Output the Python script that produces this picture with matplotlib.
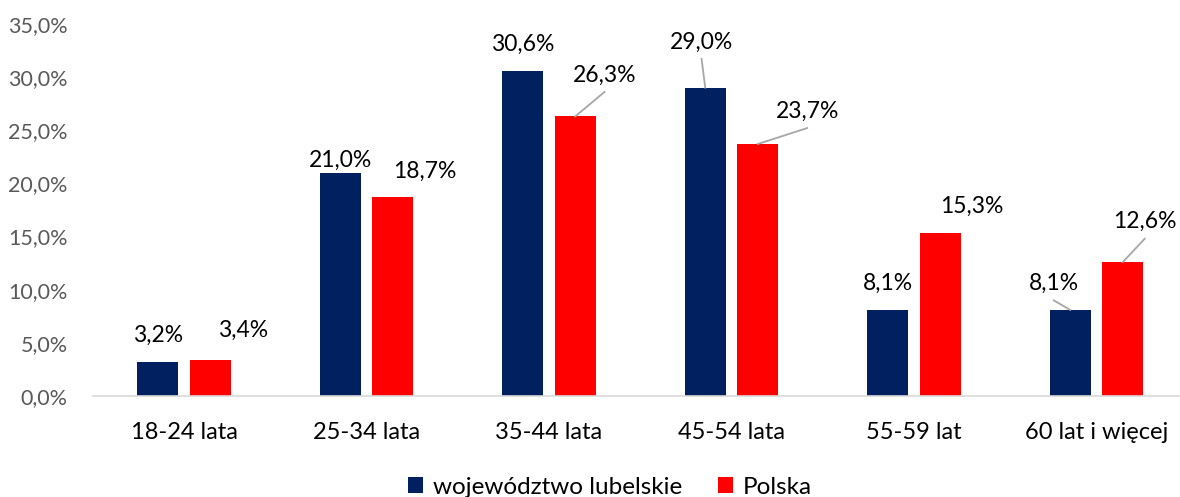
import numpy as np
import matplotlib.pyplot as plt

plt.rcParams['font.family'] = ['Lato', 'DejaVu Sans']

categories = ['18-24 lata', '25-34 lata', '35-44 lata', '45-54 lata', '55-59 lat', '60 lat i więcej']
lubelskie = [3.2, 21.0, 30.6, 29.0, 8.1, 8.1]
polska = [3.4, 18.7, 26.3, 23.7, 15.3, 12.6]

# label placement: x offset from bar centre (category units), y of label centre (%), leader line?
lub_labels = [(0.0, 5.7, False), (0.0, 22.2, False), (0.0, 33.1, False),
              (-0.02, 33.3, True), (0.0, 10.6, False), (-0.09, 10.6, True)]
pol_labels = [(0.18, 6.2, False), (0.175, 21.1, False), (0.16, 30.2, True),
              (0.27, 26.8, True), (0.175, 17.8, False), (0.12, 16.4, True)]

navy = '#002060'
red = '#ff0000'

fig = plt.figure(figsize=(11.8, 4.97), dpi=100)
ax = fig.add_axes([0.0786, 0.203, 0.928, 0.749])

x = np.arange(len(categories))
off = 0.144
w = 0.225
ax.bar(x - off, lubelskie, w, color=navy, label='województwo lubelskie')
ax.bar(x + off, polska, w, color=red, label='Polska')


def fmt(v):
    return f'{v:.1f}%'.replace('.', ',')


def put_labels(vals, xs, spec):
    for xi, v, (dx, y, lead) in zip(xs, vals, spec):
        tx = xi + dx
        ax.text(tx, y, fmt(v), ha='center', va='center', fontsize=16.5, color='black')
        if lead:
            # grey leader from the bar top to just under the label
            ax.plot([xi, tx], [v, y - 1.6], color='#a6a6a6', lw=1.3)


put_labels(lubelskie, x - off, lub_labels)
put_labels(polska, x + off, pol_labels)

ax.set_xlim(-0.5, len(categories) - 0.5)
ax.set_ylim(0, 35)
ax.set_yticks(np.arange(0, 36, 5))
ax.set_yticklabels([fmt(v) for v in np.arange(0, 36, 5)], fontsize=15.5, color='#595959')
ax.set_xticks(x)
ax.set_xticklabels(categories, fontsize=17, color='black')
ax.tick_params(axis='x', length=0, pad=19)
ax.tick_params(axis='y', length=0, pad=18)

for s in ['top', 'right', 'left']:
    ax.spines[s].set_visible(False)
ax.spines['bottom'].set_color('#d9d9d9')
ax.spines['bottom'].set_linewidth(1.2)

fig.legend(loc='center', bbox_to_anchor=(0.517, 0.02), ncol=2, frameon=False,
           fontsize=17.5, handlelength=0.62, handleheight=0.62, handletextpad=0.4,
           columnspacing=1.5)

fig.savefig('out.png', dpi=100)
